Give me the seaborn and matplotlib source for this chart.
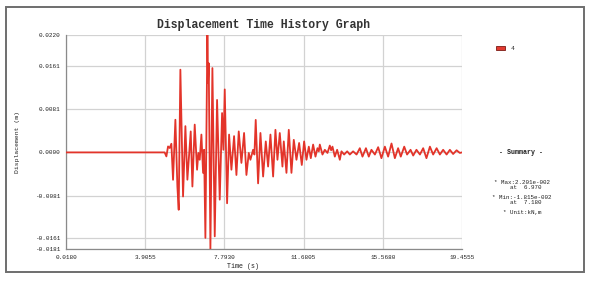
import numpy as np
import pandas as pd
import matplotlib.pyplot as plt
import seaborn as sns
from matplotlib.patches import Patch, Rectangle

# displacement history, read peak by peak off the reference (s, m)
time_s = [0.018, 4.86, 4.945, 5.027, 5.108, 5.19, 5.272, 5.387, 5.485, 5.55,
          5.632, 5.763, 5.878, 5.976, 6.14, 6.222, 6.336, 6.451, 6.516, 6.582,
          6.664, 6.746, 6.795, 6.86, 6.958, 6.991, 7.024, 7.106, 7.204, 7.319,
          7.433, 7.564, 7.679, 7.744, 7.81, 7.925, 8.023, 8.137, 8.268, 8.383,
          8.497, 8.628, 8.759, 8.874, 8.989, 9.07, 9.2, 9.267, 9.33, 9.447,
          9.562, 9.693, 9.824, 9.938, 10.053, 10.184, 10.298, 10.397, 10.511, 10.642,
          10.708, 10.839, 10.953, 11.084, 11.199, 11.33, 11.461, 11.592, 11.706, 11.821,
          11.936, 12.034, 12.148, 12.263, 12.361, 12.427, 12.476, 12.607, 12.722, 12.852,
          12.967, 13.032, 13.098, 13.213, 13.327, 13.458, 13.54, 13.67, 13.82, 13.95,
          14.11, 14.28, 14.44, 14.57, 14.74, 14.88, 15.01, 15.18, 15.34, 15.50,
          15.67, 15.83, 15.995, 16.16, 16.32, 16.45, 16.62, 16.76, 16.93, 17.06,
          17.22, 17.39, 17.55, 17.71, 17.88, 18.04, 18.21, 18.37, 18.53, 18.70,
          18.86, 19.02, 19.19, 19.35, 19.455]
disp_m = [0.0, 0.0, -0.00075, 0.00112, 0.00082, 0.00162, -0.00513, 0.00612, -0.00638, -0.01075,
          0.0155, -0.00826, 0.00492, -0.00511, 0.00393, -0.00639, 0.00521, -0.00324, -0.0001, -0.00138,
          0.00334, -0.00383, 0.00049, -0.01602, 0.0220, 0.0130, 0.0167, -0.0181, 0.0158, -0.01573,
          0.00983, -0.00885, 0.00737, 0.00049, 0.0118, -0.00953, 0.00334, -0.00324, 0.00305, -0.00423,
          0.00393, -0.00197, 0.00364, -0.00423, -0.0001, -0.00138, 0.00049, -0.0004, 0.00609, -0.0058,
          0.00364, -0.00452, 0.00206, -0.00265, 0.00334, -0.00452, 0.00423, -0.00138, 0.00364, -0.00265,
          0.00206, -0.00383, 0.00423, -0.00383, 0.00236, -0.00138, 0.00177, -0.00236, 0.00206, -0.00138,
          0.00108, -0.00108, 0.00147, -0.00079, 0.00079, 0.0002, 0.00147, -0.0004, 0.00049, -0.0001,
          0.00128, 0.0004, 0.00108, -0.00079, 0.00049, -0.00138, 0.0002, -0.0004, 0.0002, -0.0004,
          0.0002, -0.0004, 0.00079, -0.00079, 0.00079, -0.00079, 0.00049, -0.0004, 0.00098, -0.00108,
          0.00108, -0.00079, 0.00167, -0.00108, 0.00079, -0.00079, 0.00108, -0.0004, 0.00049, -0.00059,
          0.00049, -0.0004, 0.00079, -0.00108, 0.00108, -0.0004, 0.00079, -0.0004, 0.00049, -0.0004,
          0.00049, -0.0003, 0.0004, -0.0001, 0.0]

x_ticks = [0.018, 3.9055, 7.793, 11.6805, 15.568, 19.4555]
x_tick_labels = ["0.0180", "3.9055", "7.7930", "11.6805", "15.5680", "19.4555"]
y_ticks = [-0.0181, -0.0161, -0.0081, 0.0, 0.0081, 0.0161, 0.0220]
y_tick_labels = ["-0.0181", "-0.0161", "-0.0081", "0.0000", "0.0081", "0.0161", "0.0220"]
series_name = "4"
summary_title = "- Summary -"
summary_lines = ["* Max:2.201e-002\n  at  6.970",
                 "* Min:-1.815e-002\n  at  7.180",
                 "* Unit:kN,m"]

line_red = "#e3342a"
mono = "Liberation Mono"

sns.set_style("white")
plt.rcParams["font.family"] = [mono, "DejaVu Sans Mono"]

W, H = 593, 282
fig = plt.figure(figsize=(W / 100, H / 100), dpi=100)
fig.patch.set_facecolor("white")

# outer frame
fig.add_artist(Rectangle((6 / W, 1 - 272 / H), (584 - 6) / W, (272 - 7) / H,
                         transform=fig.transFigure, fill=False,
                         edgecolor="#6e6e6e", linewidth=1.4))

left, right, top, bottom = 66, 462, 35, 249
ax = fig.add_axes([left / W, 1 - bottom / H, (right - left) / W, (bottom - top) / H])

df = pd.DataFrame({"Time (s)": time_s, "Displacement (m)": disp_m})
sns.lineplot(data=df, x="Time (s)", y="Displacement (m)", ax=ax, color=line_red,
             linewidth=1.3, sort=False, zorder=3)

ax.set_xlim(x_ticks[0], x_ticks[-1])
ax.set_ylim(y_ticks[0], y_ticks[-1])
ax.set_xticks(x_ticks)
ax.set_xticklabels(x_tick_labels)
ax.set_yticks(y_ticks)
ax.set_yticklabels(y_tick_labels)
ax.tick_params(axis="both", labelsize=4.3, colors="#555555", labelcolor="#222222",
               length=2.5, width=0.8, pad=1.5, direction="out")
ax.grid(True, color="#d2d2d2", linewidth=0.9)
for side in ["top", "right"]:
    ax.spines[side].set_visible(False)
for side in ["left", "bottom"]:
    ax.spines[side].set_color("#8a8a8a")
    ax.spines[side].set_linewidth(0.9)

ax.set_xlabel("Time (s)", fontsize=4.8, color="#222222")
ax.xaxis.set_label_coords((243 - left) / (right - left), -(263 - bottom) / (bottom - top))
ax.set_ylabel("Displacement (m)", fontsize=4.6, color="#222222")
ax.yaxis.set_label_coords(-(left - 20) / (right - left), 0.5)

ax.set_title("Displacement Time History Graph", fontsize=8.3, fontweight="bold",
             color="#333333", pad=(top - 22.5) * 0.72 - 4)

handles = [Patch(facecolor="#e23a30", edgecolor="#7a1a14", linewidth=0.6)]
fig.legend(handles, [series_name], loc="center left", frameon=False,
           bbox_to_anchor=(490 / W, 1 - 48.5 / H), fontsize=4.5,
           handlelength=1.45, handleheight=0.55, handletextpad=0.9)

fig.text(521 / W, 1 - 152.5 / H, summary_title, fontsize=4.8, fontweight="bold",
         ha="center", va="center", color="#222222")
for txt, y in zip(summary_lines, [184.8, 199.8, 212.3]):
    fig.text(522 / W, 1 - y / H, txt, fontsize=4.2, ha="center", va="center",
             color="#222222", linespacing=1.05)

fig.savefig("out.png", dpi=100, facecolor="white")
